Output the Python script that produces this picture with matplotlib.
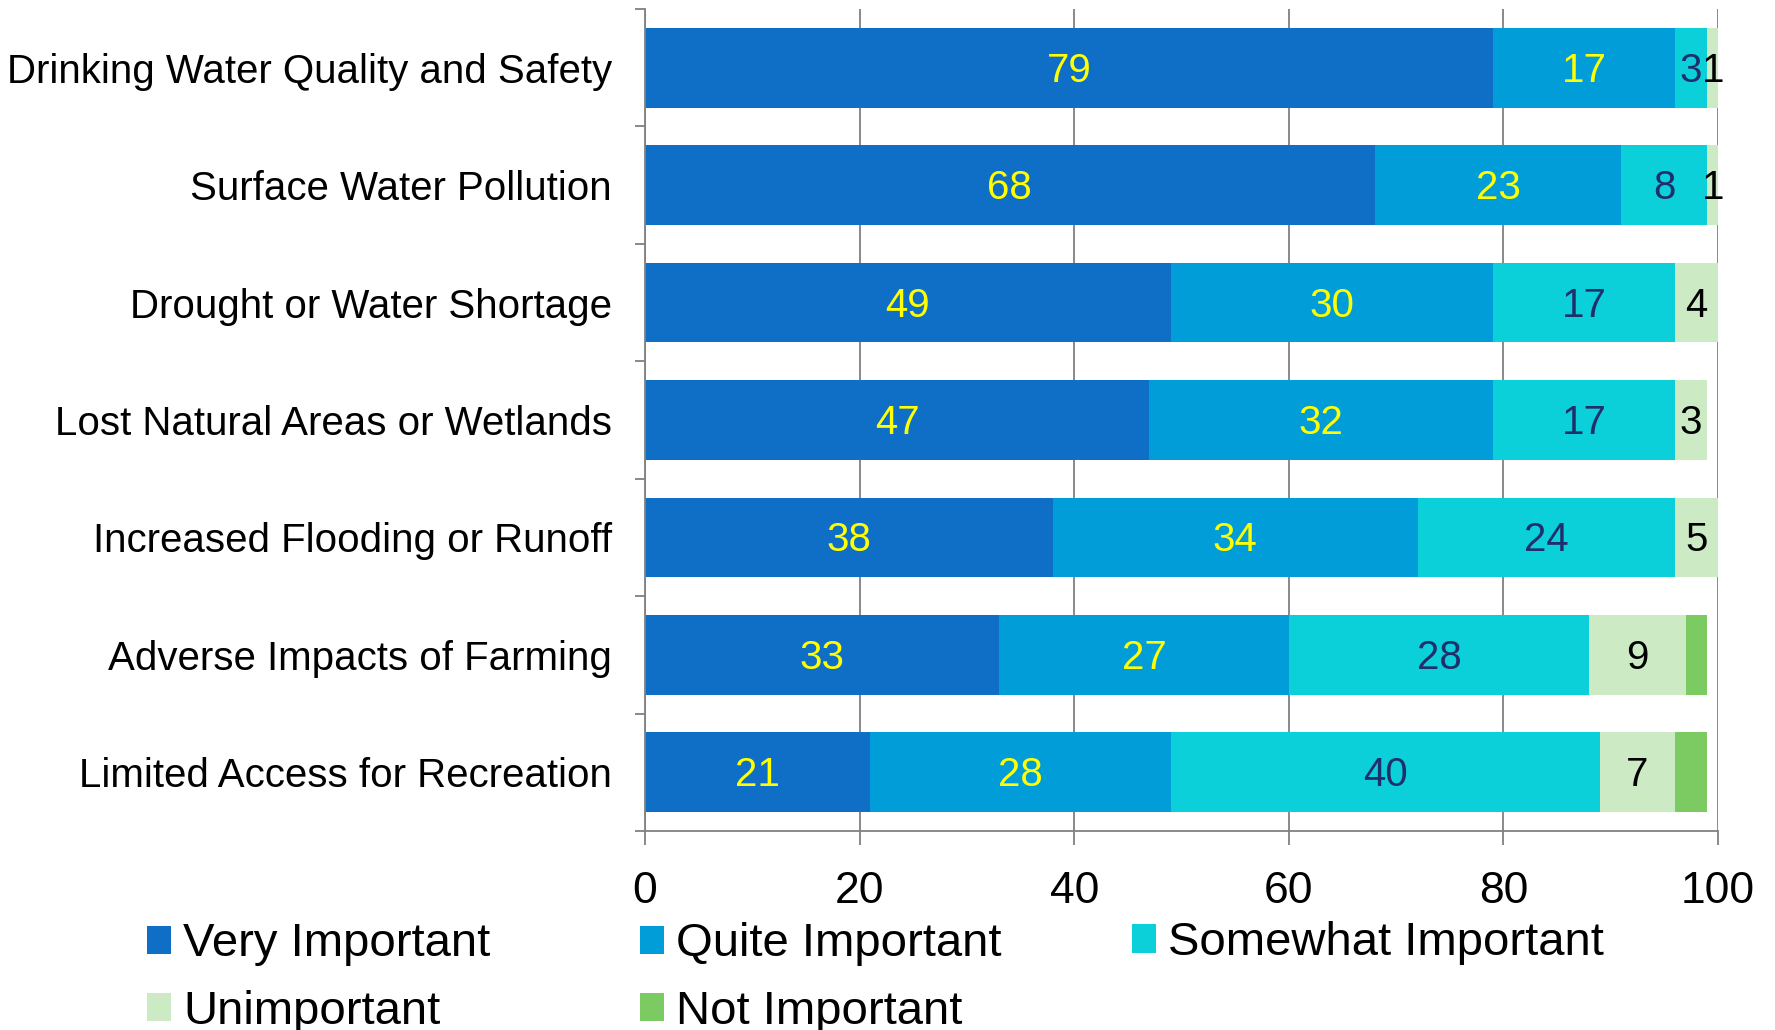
import matplotlib
matplotlib.use("Agg")
import matplotlib.pyplot as plt
import numpy as np

plt.rcParams['font.family'] = ['Liberation Sans', 'DejaVu Sans']

categories = ["Drinking Water Quality and Safety", "Surface Water Pollution",
              "Drought or Water Shortage", "Lost Natural Areas or Wetlands",
              "Increased Flooding or Runoff", "Adverse Impacts of Farming",
              "Limited Access for Recreation"]
series_names = ["Very Important", "Quite Important", "Somewhat Important",
                "Unimportant", "Not Important"]
very = [79, 68, 49, 47, 38, 33, 21]
quite = [17, 23, 30, 32, 34, 27, 28]
somewhat = [3, 8, 17, 17, 24, 28, 40]
unimportant = [1, 1, 4, 3, 5, 9, 7]
not_important = [0, 0, 0, 0, 0, 2, 3]
xticks = [0, 20, 40, 60, 80, 100]

series = [very, quite, somewhat, unimportant, not_important]
colors = ['#0F6FC6', '#009DD9', '#0BD0D9', '#CCEBC5', '#7CCA62']
label_colors = ['#FFFF00', '#FFFF00', '#1F2F6B', '#000000', None]
gray = '#808080'

fig = plt.figure(figsize=(17.75, 10.3), dpi=100)
ax = fig.add_axes([645 / 1775, (1030 - 831) / 1030, (1718 - 645) / 1775, (831 - 9) / 1030])

y = np.arange(len(categories))
left = np.zeros(len(categories))
handles = []
for vals, c, lc, name in zip(series, colors, label_colors, series_names):
    vals = np.array(vals, dtype=float)
    bars = ax.barh(y, vals, left=left, height=0.68, color=c, label=name, zorder=2)
    handles.append(bars)
    if lc:
        anns = ax.bar_label(bars, labels=[str(int(v)) if v > 0 else '' for v in vals],
                            label_type='center', color=lc, fontsize=29)
        for a in anns:
            a.xyann = (0, -2.2)
    left += vals

ax.set_xlim(0, 100)
ax.set_ylim(len(categories) - 0.5, -0.5)
ax.set_xticks(xticks)
ax.set_xticklabels([str(t) for t in xticks])
ax.set_yticks(y)
ax.set_yticklabels(categories)
ax.set_yticks(np.arange(-0.5, len(categories), 1), minor=True)

ax.tick_params(axis='y', which='major', length=0, pad=24, labelsize=29)
ax.tick_params(axis='y', which='minor', length=7, width=1.3, color=gray)
ax.tick_params(axis='x', which='major', length=10, width=1.3, color=gray, pad=19, labelsize=32)

ax.xaxis.grid(True, color=gray, linewidth=1.3)
ax.set_axisbelow(True)
for s in ['top', 'right']:
    ax.spines[s].set_visible(False)
for s in ['left', 'bottom']:
    ax.spines[s].set_color(gray)
    ax.spines[s].set_linewidth(1.3)

leg_kw = dict(frameon=False, fontsize=34, handlelength=0.51, handleheight=0.55,
              handletextpad=0.25, labelspacing=0.49, borderpad=0, borderaxespad=0,
              loc='center left')
cols = [([handles[0], handles[3]], [series_names[0], series_names[3]], 147, 978),
        ([handles[1], handles[4]], [series_names[1], series_names[4]], 640, 978),
        ([handles[2]], [series_names[2]], 1132, 943)]
for h, lab, xp, yp in cols:
    fig.legend(h, lab, bbox_to_anchor=(xp / 1775, (1030 - yp) / 1030), **leg_kw)

fig.savefig('out.png', dpi=100, facecolor='white')
